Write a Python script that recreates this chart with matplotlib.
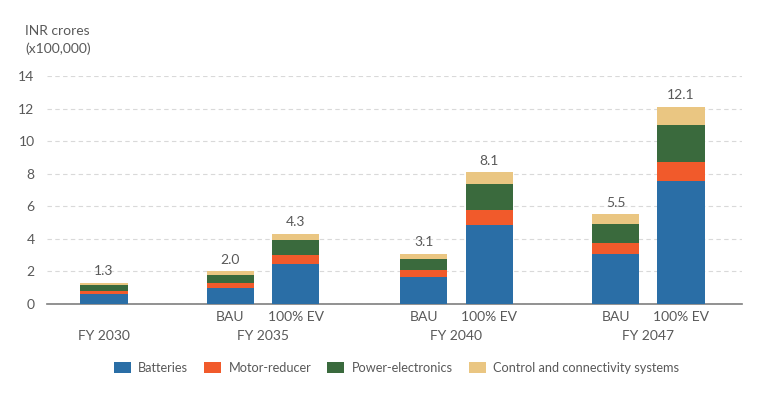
import matplotlib
matplotlib.use("Agg")
import matplotlib.pyplot as plt
from matplotlib.patches import Patch

plt.rcParams['font.family'] = ['Lato', 'DejaVu Sans']

# ---- data ----
groups = ["FY 2030", "FY 2035", "FY 2040", "FY 2047"]
bar_labels = ["", "BAU", "100% EV", "BAU", "100% EV", "BAU", "100% EV"]
bar_group = [0, 1, 1, 2, 2, 3, 3]
batteries = [0.60, 0.97, 2.43, 1.66, 4.83, 3.09, 7.58]
motor_reducer = [0.22, 0.30, 0.58, 0.43, 0.94, 0.63, 1.17]
power_electronics = [0.36, 0.53, 0.90, 0.69, 1.62, 1.17, 2.27]
control_connectivity = [0.12, 0.20, 0.39, 0.32, 0.71, 0.61, 1.08]
totals = [1.3, 2.0, 4.3, 3.1, 8.1, 5.5, 12.1]
series_names = ["Batteries", "Motor-reducer", "Power-electronics",
                "Control and connectivity systems"]
colors = ["#2a6ea6", "#f15a2b", "#3a6a3d", "#eac682"]
positions = [0.0, 1.93, 2.93, 4.88, 5.88, 7.81, 8.81]

text_color = "#595959"

fig = plt.figure(figsize=(7.61, 3.98), dpi=100)
W, H = 761, 398
ax_left, ax_right, ax_bottom, ax_top = 47, 742, 304, 76
ax = fig.add_axes([ax_left / W, 1 - ax_bottom / H,
                   (ax_right - ax_left) / W, (ax_bottom - ax_top) / H])

px_per_unit = 65.5
x0_px = 104
xmin = (ax_left - x0_px) / px_per_unit
xmax = (ax_right - x0_px) / px_per_unit
ax.set_xlim(xmin, xmax)
ax.set_ylim(0, 14)

width = 0.72
series = [batteries, motor_reducer, power_electronics, control_connectivity]
bottom = [0.0] * len(positions)
for vals, name, c in zip(series, series_names, colors):
    ax.bar(positions, vals, width=width, bottom=bottom, color=c,
           edgecolor="none", zorder=3, label=name)
    bottom = [b + v for b, v in zip(bottom, vals)]

for p, top, t in zip(positions, bottom, totals):
    ax.annotate(f"{t:.1f}", (p, top), xytext=(0, 4), textcoords="offset points",
                ha="center", va="bottom", fontsize=10, color=text_color)

# grid & spines
ax.set_yticks(range(0, 15, 2))
ax.yaxis.grid(True, linestyle=(0, (4, 3)), color="#d9d9d9", linewidth=0.8, zorder=0)
ax.xaxis.grid(False)
for s in ["top", "right", "left"]:
    ax.spines[s].set_visible(False)
ax.spines["bottom"].set_color("#7f7f7f")
ax.spines["bottom"].set_linewidth(1.2)
ax.tick_params(axis="y", length=0, pad=9, labelsize=10, labelcolor=text_color)
ax.tick_params(axis="x", length=0)
ax.set_xticks([])

# sub-labels and group labels
trans = ax.get_xaxis_transform()
for p, lab in zip(positions, bar_labels):
    if lab:
        ax.text(p, -(317 - ax_bottom) / (ax_bottom - ax_top), lab, transform=trans,
                ha="center", va="center", fontsize=10, color=text_color)
for gi, g in enumerate(groups):
    ps = [p for p, b in zip(positions, bar_group) if b == gi]
    c = sum(ps) / len(ps)
    ax.text(c, -(336.5 - ax_bottom) / (ax_bottom - ax_top), g, transform=trans,
            ha="center", va="center", fontsize=10, color=text_color)

# y-axis title
fig.text(25 / W, 1 - 31 / H, "INR crores", ha="left", va="center",
         fontsize=10, color=text_color)
fig.text(25 / W, 1 - 49 / H, "(x100,000)", ha="left", va="center",
         fontsize=10, color=text_color)

# legend
handles = [Patch(facecolor=c, edgecolor="none", label=n)
           for c, n in zip(colors, series_names)]
fig.legend(handles=handles, loc="center", bbox_to_anchor=(396.5 / W, 1 - 368 / H),
           ncol=4, frameon=False, fontsize=9.2, handlelength=1.33,
           handleheight=1.0, handletextpad=0.58, columnspacing=1.25,
           labelcolor=text_color)

fig.savefig("out.png", dpi=100)
